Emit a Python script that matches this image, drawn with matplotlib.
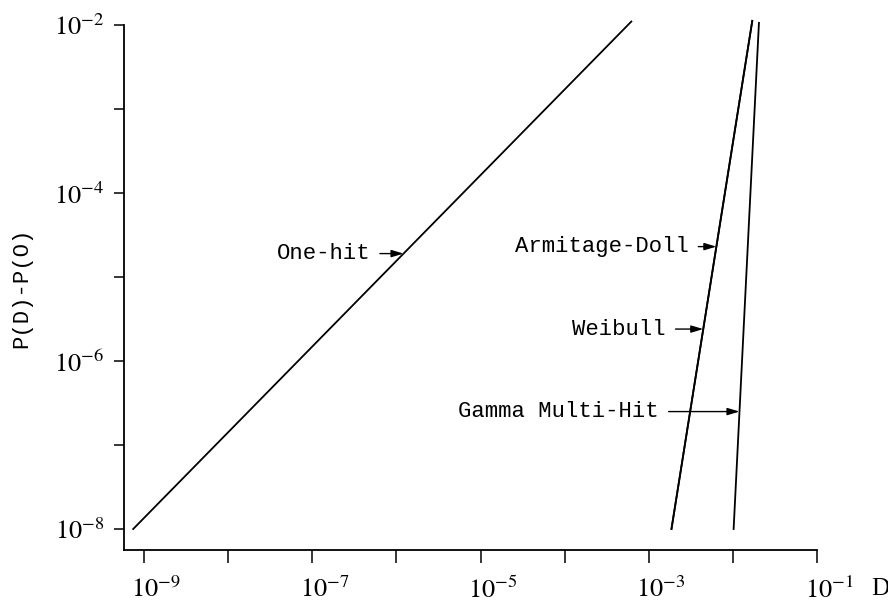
import numpy as np
import matplotlib
matplotlib.use('Agg')
import matplotlib.pyplot as plt
from matplotlib.ticker import NullLocator
from matplotlib.transforms import ScaledTranslation

matplotlib.rcParams['mathtext.fontset'] = 'stix'
matplotlib.rcParams['font.family'] = 'Liberation Serif'

# dose-response curves, excess risk vs dose (end points of each straight log-log line)
dose_onehit = [7.4e-10, 6.2e-4]
resp_onehit = [1e-8, 1.1e-2]
dose_armitage = [1.86e-3, 1.7e-2]
resp_armitage = [1e-8, 1.12e-2]
dose_weibull = [1.86e-3, 1.7e-2]
resp_weibull = [1e-8, 1.12e-2]
dose_gamma = [1.02e-2, 2.04e-2]
resp_gamma = [1e-8, 1.06e-2]

labels = ['One-hit', 'Armitage-Doll', 'Weibull', 'Gamma Multi-Hit']
label_levels = [1.9e-5, 2.3e-5, 2.4e-6, 2.5e-7]
label_offsets = [-24, -20, -27, -58]

xtick_exp = list(range(-9, 0))
ytick_exp = list(range(-8, -1))

curves = [(dose_onehit, resp_onehit), (dose_armitage, resp_armitage),
          (dose_weibull, resp_weibull), (dose_gamma, resp_gamma)]

fig = plt.figure(figsize=(8.88, 6.03), dpi=100)
ax = fig.add_axes([124/888, 1 - 550/603, 693/888, 525/603])

for d, p in curves:
    ax.plot(d, p, color='k', lw=1.3, clip_on=False)

ax.set_xscale('log')
ax.set_yscale('log')
ax.set_xlim(10**-9.24, 1e-1)
ax.set_ylim(10**-8.25, 1e-2)

ax.set_xticks([10.0**e for e in xtick_exp])
ax.set_xticklabels([r'$10^{%d}$' % e if e % 2 else '' for e in xtick_exp])
ax.set_yticks([10.0**e for e in ytick_exp])
ax.set_yticklabels([r'$10^{%d}$' % e if e % 2 == 0 else '' for e in ytick_exp])
ax.xaxis.set_minor_locator(NullLocator())
ax.yaxis.set_minor_locator(NullLocator())

ax.tick_params(axis='x', direction='out', length=9, width=1.1, pad=10, labelsize=19)
ax.tick_params(axis='y', direction='out', length=7, width=1.1, pad=7, labelsize=19)

# push x labels right so the "10" sits under the tick
shift = ScaledTranslation(12/100, 0, fig.dpi_scale_trans)
for lab in ax.get_xticklabels():
    lab.set_transform(lab.get_transform() + shift)

for s in ['top', 'right']:
    ax.spines[s].set_visible(False)
for s in ['left', 'bottom']:
    ax.spines[s].set_linewidth(1.3)

mono = 'Liberation Mono'
ax.set_ylabel('P(D)-P(O)', family=mono, fontsize=16)
ax.yaxis.set_label_coords((32 - 124)/693, 0.5)
ax.text((880 - 124)/693, (550 - 589)/525, 'D', transform=ax.transAxes,
        ha='center', va='center', fontsize=18)

# labels with arrows pointing at each curve
for (d, p), lab, lvl, off in zip(curves, labels, label_levels, label_offsets):
    x_at = 10**np.interp(np.log10(lvl), np.log10(p), np.log10(d))
    ax.annotate(lab, xy=(x_at, lvl), xytext=(off, 0), textcoords='offset points',
                ha='right', va='center', family=mono, fontsize=16,
                arrowprops=dict(arrowstyle='-|>,head_length=0.6,head_width=0.18',
                                color='k', lw=1.0, mutation_scale=12,
                                relpos=(1.0, 0.5), shrinkA=5, shrinkB=0))

fig.savefig('out.png', dpi=100)
